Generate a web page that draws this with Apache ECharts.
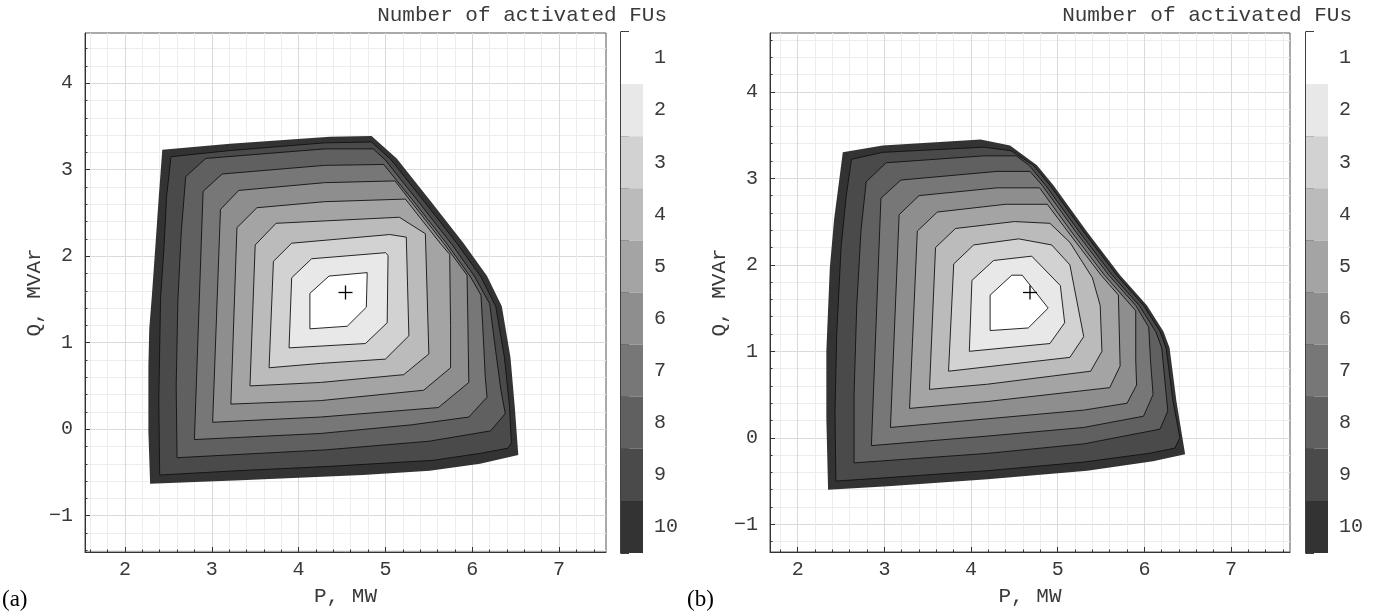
<!DOCTYPE html>
<html>
<head>
<meta charset="utf-8">
<script src="https://cdn.jsdelivr.net/npm/echarts@6/dist/echarts.min.js"></script>
<style>
html,body{margin:0;padding:0;background:#fff;}
#c{width:1385px;height:612px;}
</style>
</head>
<body>
<div id="c"></div>
<script>
// ---------- data ----------
const levels = [1,2,3,4,5,6,7,8,9,10];
const levelColors = ['#ffffff','#e8e8e8','#d2d2d2','#bbbbbb','#a4a4a4','#8e8e8e','#777777','#606060','#4a4a4a','#333333'];
const xMajorTicks = [2,3,4,5,6,7];
const yMajorTicks = [-1,0,1,2,3,4];
const xRangeA = [1.54, 7.54];
const yRangeA = [-1.42, 4.58];
const xRangeB = [1.68, 7.68];
const yRangeB = [-1.32, 4.68];
const optimumA = [4.54, 1.58];
const optimumB = [4.68, 1.68];

// (a) contour polygons, [P, Q]
const a10 = [[2.43,3.23],[3.21,3.30],[4.36,3.38],[4.84,3.39],[5.13,3.13],[5.51,2.65],[5.90,2.15],[6.17,1.77],[6.34,1.42],[6.44,0.83],[6.49,0.25],[6.53,-0.30],[6.09,-0.40],[5.51,-0.48],[4.74,-0.53],[3.33,-0.59],[2.29,-0.63],[2.27,-0.03],[2.27,0.73],[2.28,1.16],[2.31,1.54],[2.35,2.11],[2.39,2.69]];
const a9 = [[2.53,3.15],[3.20,3.22],[4.30,3.31],[4.84,3.32],[5.06,3.12],[5.44,2.64],[5.83,2.14],[6.10,1.76],[6.27,1.42],[6.37,0.83],[6.43,0.25],[6.45,-0.16],[6.41,-0.22],[6.09,-0.28],[5.55,-0.36],[4.36,-0.43],[3.30,-0.48],[2.40,-0.53],[2.39,0.35],[2.41,1.50],[2.45,2.11],[2.48,2.69]];
const a8 = [[2.70,2.92],[2.93,3.13],[4.30,3.24],[4.86,3.24],[5.00,3.11],[5.38,2.63],[5.77,2.13],[6.03,1.76],[6.20,1.45],[6.27,0.90],[6.33,0.45],[6.38,0.18],[6.21,-0.02],[5.50,-0.14],[4.30,-0.24],[2.60,-0.33],[2.59,0.50],[2.61,1.50],[2.65,2.30]];
const a7 = [[2.90,2.75],[3.12,2.95],[4.30,3.05],[4.98,3.06],[5.32,2.64],[5.71,2.14],[5.98,1.76],[6.10,1.55],[6.12,1.20],[6.15,0.60],[6.17,0.37],[5.96,0.14],[5.30,0.05],[4.25,-0.05],[2.80,-0.12]];
const a6 = [[3.10,2.54],[3.31,2.76],[4.30,2.85],[5.11,2.87],[5.28,2.65],[5.67,2.15],[5.94,1.78],[5.95,1.20],[5.96,0.54],[5.61,0.25],[4.25,0.14],[3.01,0.08]];
const a5 = [[3.29,2.33],[3.52,2.56],[4.30,2.63],[5.23,2.66],[5.63,2.15],[5.74,2.02],[5.75,1.20],[5.75,0.71],[5.44,0.45],[4.25,0.33],[3.22,0.29]];
const a4 = [[3.50,2.13],[3.74,2.38],[5.16,2.45],[5.46,2.26],[5.50,0.87],[5.21,0.63],[4.25,0.54],[3.44,0.50]];
const a3 = [[3.71,1.94],[3.92,2.15],[5.05,2.25],[5.24,2.22],[5.27,1.08],[5.00,0.81],[4.25,0.76],[3.66,0.71]];
const a2 = [[3.92,1.75],[4.15,1.97],[5.00,2.04],[5.03,2.01],[5.02,1.23],[4.77,0.99],[3.89,0.94]];
const a1 = [[4.13,1.57],[4.35,1.77],[4.79,1.81],[4.78,1.41],[4.56,1.19],[4.13,1.16]];

// (b) contour polygons, [P, Q]
const b10 = [[2.52,3.30],[2.98,3.38],[4.11,3.45],[4.45,3.38],[4.76,3.15],[4.95,2.92],[5.34,2.38],[5.72,1.88],[6.03,1.53],[6.22,1.23],[6.29,1.04],[6.37,0.42],[6.47,-0.19],[6.10,-0.27],[5.34,-0.38],[4.19,-0.48],[3.04,-0.56],[2.35,-0.60],[2.33,0.23],[2.33,1.00],[2.37,1.96],[2.42,2.53],[2.48,2.99]];
const b9 = [[2.62,3.22],[2.98,3.30],[4.15,3.36],[4.46,3.32],[4.72,3.15],[4.91,2.92],[5.30,2.38],[5.68,1.88],[5.99,1.53],[6.18,1.23],[6.25,1.04],[6.33,0.42],[6.41,0.00],[6.35,-0.12],[6.05,-0.18],[5.30,-0.28],[4.19,-0.38],[3.04,-0.46],[2.44,-0.50],[2.43,0.30],[2.45,1.20],[2.50,2.20],[2.56,2.80]];
const b8 = [[2.79,2.96],[3.02,3.18],[4.15,3.26],[4.52,3.26],[4.67,3.15],[4.86,2.92],[5.25,2.38],[5.63,1.88],[5.94,1.53],[6.13,1.23],[6.20,1.04],[6.27,0.31],[6.18,0.10],[5.30,-0.07],[4.19,-0.18],[2.65,-0.29],[2.65,0.50],[2.68,1.50],[2.73,2.40]];
const b7 = [[2.96,2.77],[3.19,2.98],[4.30,3.08],[4.68,3.08],[4.82,2.92],[5.21,2.38],[5.59,1.88],[5.90,1.53],[6.05,1.28],[6.07,0.90],[6.10,0.50],[5.99,0.25],[5.30,0.12],[4.19,0.02],[2.85,-0.09]];
const b6 = [[3.17,2.58],[3.40,2.80],[4.30,2.89],[4.79,2.89],[5.16,2.38],[5.54,1.88],[5.90,1.47],[5.90,0.90],[5.91,0.61],[5.80,0.40],[5.30,0.32],[4.19,0.22],[3.07,0.12]];
const b5 = [[3.38,2.39],[3.61,2.61],[4.40,2.70],[4.88,2.70],[5.12,2.38],[5.50,1.88],[5.70,1.65],[5.72,0.83],[5.60,0.58],[4.19,0.42],[3.29,0.34]];
const b4 = [[3.59,2.20],[3.82,2.42],[4.50,2.50],[4.91,2.48],[5.14,2.26],[5.40,1.85],[5.49,1.53],[5.51,1.00],[5.38,0.77],[4.19,0.62],[3.52,0.56]];
const b3 = [[3.80,2.01],[4.03,2.23],[4.55,2.30],[4.93,2.23],[5.14,2.00],[5.30,1.17],[5.14,0.93],[3.74,0.77]];
const b2 = [[4.01,1.82],[4.26,2.05],[4.70,2.10],[5.03,1.76],[5.08,1.33],[4.91,1.09],[3.98,1.00]];
const b1 = [[4.22,1.65],[4.47,1.88],[4.59,1.88],[4.89,1.50],[4.66,1.27],[4.22,1.24]];

// ---------- helpers ----------
const MONO = "'Liberation Mono','DejaVu Sans Mono',monospace";
const SERIF = "'Liberation Serif','DejaVu Serif',serif";
const TXT = '#3a3a3a';
function minorValues(lo, hi) {
  const out = [];
  for (let k = Math.ceil(lo / 0.2 - 1e-9); k * 0.2 <= hi + 1e-9; k++) {
    const v = +(k * 0.2).toFixed(1);
    if (Math.abs(v - Math.round(v)) > 1e-6) out.push(v);
  }
  return out;
}
const fmt = v => (v < 0 ? '\u2212' + Math.abs(v) : String(v));
const cbBounds = levels.map(l => l - 0.5).concat([levels[levels.length - 1] + 0.5]);

function majorAxis(gridIndex, range, ticks, pos, name, nameGap) {
  const isY = pos === 'left';
  return {
    type: 'value', gridIndex, min: range[0], max: range[1], position: pos,
    axisLine: { show: true, onZero: false, lineStyle: { color: '#333', width: 1 } },
    axisTick: { show: true, inside: true, length: 5, customValues: ticks, lineStyle: { color: '#333', width: 1 } },
    axisLabel: { show: true, customValues: ticks, formatter: fmt, margin: isY ? 12 : 8,
      color: TXT, fontFamily: MONO, fontSize: 20 },
    splitLine: { show: true, lineStyle: { color: '#dadada', width: 1 } },
    name, nameLocation: 'middle', nameGap, nameRotate: isY ? 90 : 0,
    nameTextStyle: { color: TXT, fontFamily: MONO, fontSize: 21 }
  };
}
function minorAxis(gridIndex, range, pos) {
  const vals = minorValues(range[0], range[1]);
  return {
    type: 'value', gridIndex, min: range[0], max: range[1], position: pos,
    axisLine: { show: false, onZero: false },
    axisTick: { show: true, inside: true, length: 2.5, customValues: vals, lineStyle: { color: '#333', width: 1 } },
    axisLabel: { show: false },
    splitLine: { show: true, lineStyle: { color: '#ededed', width: 1 } }
  };
}
function cbXAxis(gridIndex) {
  return { type: 'value', gridIndex, min: 0, max: 1, show: false };
}
function cbYAxis(gridIndex) {
  return {
    type: 'value', gridIndex, min: 0.5, max: 10.5, inverse: true, position: 'right',
    axisLine: { show: true, lineStyle: { color: '#000', width: 1.5 } },
    axisTick: { show: true, inside: false, length: 8, customValues: cbBounds, lineStyle: { color: '#000', width: 1.5 } },
    axisLabel: { show: true, customValues: levels, margin: 11, color: TXT, fontFamily: MONO, fontSize: 20 },
    splitLine: { show: false }
  };
}
function polySeries(points, level, stroke, axisIdx) {
  return {
    type: 'custom', xAxisIndex: axisIdx, yAxisIndex: axisIdx, data: points,
    silent: true, animation: false, clip: true,
    renderItem: (params, api) => {
      if (params.dataIndex !== 0) return null;
      const pts = points.map(p => api.coord(p));
      return { type: 'polygon', shape: { points: pts },
        style: { fill: levelColors[level - 1], stroke: stroke ? '#111' : null, lineWidth: 0.9, lineJoin: 'miter' } };
    }
  };
}
function markerSeries(pt, axisIdx) {
  return {
    type: 'custom', xAxisIndex: axisIdx, yAxisIndex: axisIdx, data: [pt], silent: true, animation: false,
    renderItem: (params, api) => {
      const c = api.coord([api.value(0), api.value(1)]);
      const r = 7;
      return { type: 'group', children: [
        { type: 'line', shape: { x1: c[0] - r, y1: c[1], x2: c[0] + r, y2: c[1] }, style: { stroke: '#000', lineWidth: 1.3 } },
        { type: 'line', shape: { x1: c[0], y1: c[1] - r, x2: c[0], y2: c[1] + r }, style: { stroke: '#000', lineWidth: 1.3 } }
      ] };
    }
  };
}
function colorbarSeries(axisIdx) {
  return {
    type: 'custom', xAxisIndex: axisIdx, yAxisIndex: axisIdx, silent: true, animation: false,
    data: levels.map(l => [0, l]),
    renderItem: (params, api) => {
      const l = api.value(1);
      const p0 = api.coord([0, l - 0.5]);
      const p1 = api.coord([1, l + 0.5]);
      return { type: 'rect',
        shape: { x: p0[0], y: Math.min(p0[1], p1[1]), width: p1[0] - p0[0], height: Math.abs(p1[1] - p0[1]) },
        style: { fill: levelColors[l - 1] } };
    }
  };
}

// axis index layout: 0 = plot A major, 1 = plot A minor, 2 = colorbar A, 3 = plot B major, 4 = plot B minor, 5 = colorbar B
const polysA = [a10, a9, a8, a7, a6, a5, a4, a3, a2, a1];
const polysB = [b10, b9, b8, b7, b6, b5, b4, b3, b2, b1];
const series = [];
polysA.forEach((p, i) => series.push(polySeries(p, 10 - i, i > 0, 0)));
series.push(markerSeries(optimumA, 0));
series.push(colorbarSeries(2));
polysB.forEach((p, i) => series.push(polySeries(p, 10 - i, i > 0, 3)));
series.push(markerSeries(optimumB, 3));
series.push(colorbarSeries(5));

const titleStyle = { text: 'Number of activated FUs', fill: TXT, fontFamily: MONO, fontSize: 21, align: 'right', verticalAlign: 'middle' };
const option = {
  backgroundColor: '#ffffff',
  animation: false,
  grid: [
    { left: 85, top: 33, width: 521, height: 520, show: true, borderColor: '#555', borderWidth: 1, backgroundColor: 'transparent' },
    { left: 621, top: 32, width: 22, height: 521, show: false },
    { left: 770, top: 33, width: 520, height: 521, show: true, borderColor: '#555', borderWidth: 1, backgroundColor: 'transparent' },
    { left: 1306, top: 32, width: 22, height: 521, show: false }
  ],
  xAxis: [
    majorAxis(0, xRangeA, xMajorTicks, 'bottom', 'P, MW', 34),
    minorAxis(0, xRangeA, 'bottom'),
    cbXAxis(1),
    majorAxis(2, xRangeB, xMajorTicks, 'bottom', 'P, MW', 34),
    minorAxis(2, xRangeB, 'bottom'),
    cbXAxis(3)
  ],
  yAxis: [
    majorAxis(0, yRangeA, yMajorTicks, 'left', 'Q, MVAr', 24),
    minorAxis(0, yRangeA, 'left'),
    cbYAxis(1),
    majorAxis(2, yRangeB, yMajorTicks, 'left', 'Q, MVAr', 24),
    minorAxis(2, yRangeB, 'left'),
    cbYAxis(3)
  ],
  graphic: [
    { type: 'text', x: 667, y: 15, style: Object.assign({}, titleStyle) },
    { type: 'text', x: 1352, y: 15, style: Object.assign({}, titleStyle) },
    { type: 'text', x: 2, y: 600, style: { text: '(a)', fill: '#000', fontFamily: SERIF, fontSize: 23, align: 'left', verticalAlign: 'middle' } },
    { type: 'text', x: 687, y: 600, style: { text: '(b)', fill: '#000', fontFamily: SERIF, fontSize: 23, align: 'left', verticalAlign: 'middle' } }
  ],
  series
};
const chart = echarts.init(document.getElementById('c'));
chart.setOption(option);
</script>
</body>
</html>
